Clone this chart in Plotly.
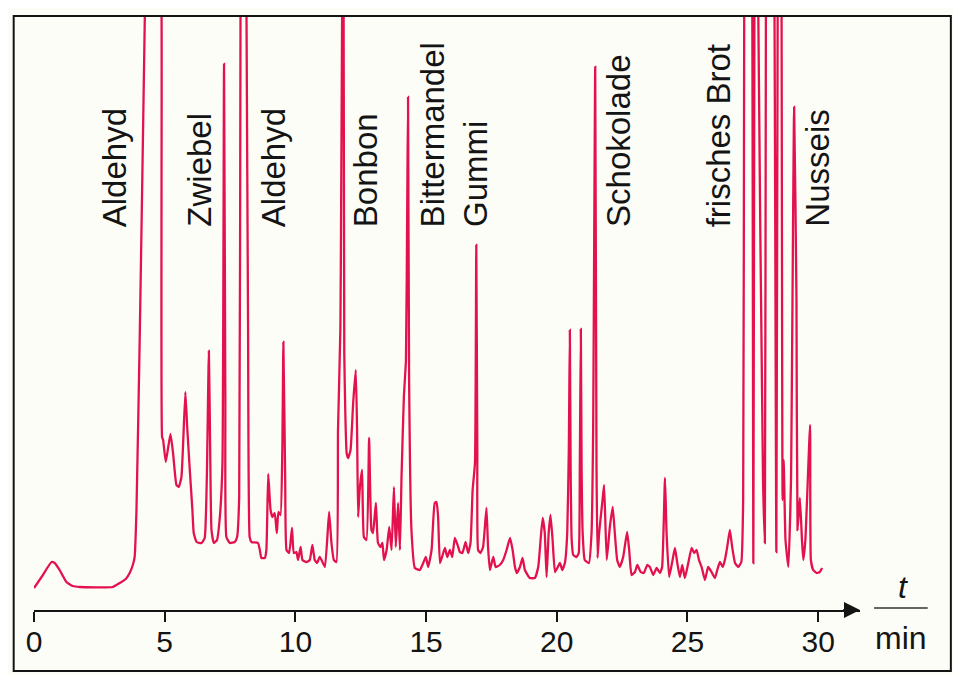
import plotly.graph_objects as go

# Gaschromatogramm: Retentionszeit (min) und Detektorsignal (willkürliche Einheiten)
zeit = [0.00, 0.29, 0.67, 0.79, 0.98, 1.24, 1.48, 1.75, 3.01, 3.28, 3.51, 3.66, 3.78, 3.85, 3.92,
        4.05, 4.24, 4.54, 4.88, 4.90, 4.94, 5.04, 5.22, 5.32, 5.45, 5.54, 5.64, 5.70, 5.79, 5.86,
        5.96, 6.06, 6.11, 6.22, 6.41, 6.53, 6.61, 6.69, 6.74, 6.79, 6.88, 7.00, 7.11, 7.21, 7.27,
        7.32, 7.36, 7.49, 7.68, 7.77, 7.85, 7.90, 8.01, 8.13, 8.19, 8.25, 8.32, 8.57, 8.64, 8.70,
        8.83, 8.89, 8.96, 9.05, 9.12, 9.21, 9.29, 9.35, 9.43, 9.50, 9.54, 9.61, 9.66, 9.76, 9.87,
        9.94, 10.04, 10.10, 10.20, 10.27, 10.42, 10.55, 10.65, 10.74, 10.83, 10.93, 11.00, 11.13,
        11.29, 11.38, 11.47, 11.57, 11.63, 11.72, 11.83, 11.87, 11.91, 11.96, 12.02, 12.11, 12.21,
        12.31, 12.36, 12.40, 12.46, 12.55, 12.62, 12.72, 12.82, 12.91, 12.97, 13.08, 13.16, 13.26,
        13.33, 13.39, 13.49, 13.59, 13.68, 13.77, 13.84, 13.93, 14.00, 14.06, 14.15, 14.23, 14.28,
        14.31, 14.35, 14.44, 14.57, 14.76, 14.89, 14.99, 15.08, 15.21, 15.33, 15.40, 15.46, 15.53,
        15.61, 15.72, 15.81, 15.91, 16.00, 16.10, 16.23, 16.29, 16.39, 16.51, 16.61, 16.70, 16.78,
        16.87, 16.92, 16.96, 16.99, 17.08, 17.18, 17.31, 17.37, 17.44, 17.57, 17.66, 17.82, 17.95,
        18.08, 18.21, 18.31, 18.40, 18.47, 18.59, 18.69, 18.78, 18.97, 19.16, 19.29, 19.38, 19.46,
        19.54, 19.61, 19.69, 19.76, 19.84, 19.93, 20.02, 20.12, 20.21, 20.31, 20.40, 20.46, 20.50,
        20.53, 20.57, 20.63, 20.76, 20.84, 20.88, 20.92, 20.95, 20.99, 21.07, 21.23, 21.33, 21.39,
        21.47, 21.52, 21.56, 21.62, 21.75, 21.81, 21.91, 22.03, 22.14, 22.22, 22.31, 22.41, 22.54,
        22.69, 22.77, 22.86, 22.99, 23.08, 23.21, 23.33, 23.46, 23.56, 23.69, 23.82, 23.95, 24.03,
        24.14, 24.20, 24.30, 24.43, 24.52, 24.61, 24.71, 24.80, 24.90, 25.03, 25.16, 25.26, 25.35,
        25.44, 25.54, 25.67, 25.79, 25.92, 26.05, 26.14, 26.24, 26.35, 26.43, 26.52, 26.62, 26.71,
        26.82, 26.94, 27.06, 27.13, 27.17, 27.31, 27.48, 27.52, 27.56, 27.63, 27.71, 27.89, 27.96,
        28.00, 28.16, 28.33, 28.40, 28.45, 28.53, 28.60, 28.64, 28.68, 28.75, 28.86, 28.96, 29.08,
        29.17, 29.21, 29.30, 29.38, 29.43, 29.51, 29.69, 29.72, 29.81, 29.94, 30.06, 30.15]

signal = [22, 33, 48, 47, 40, 28, 24, 23, 23, 27, 31, 37, 45, 53, 100,
          280, 594, 1200, 594, 173, 170, 148, 176, 157, 125, 123, 133, 163, 218, 183,
          140, 100, 77, 68, 67, 72, 130, 259, 160, 80, 67, 70, 93, 147, 546,
          210, 73, 67, 68, 73, 113, 594, 1200, 594, 280, 73, 68, 67, 60, 52,
          52, 60, 136, 100, 93, 97, 77, 98, 95, 160, 268, 130, 60, 57, 82,
          57, 58, 50, 63, 50, 48, 50, 65, 50, 47, 53, 50, 43,
          98, 67, 50, 48, 180, 280, 800, 257, 197, 157, 152, 160, 207,
          240, 180, 93, 120, 140, 73, 70, 172, 80, 77, 107, 67, 63,
          67, 50, 60, 83, 60, 123, 63, 107, 60, 133, 213, 250, 410,
          513, 230, 80, 42, 40, 47, 53, 43, 60, 107, 108, 93, 47,
          53, 62, 53, 60, 53, 72, 63, 58, 57, 68, 57, 67, 120,
          147, 365, 160, 60, 57, 63, 102, 63, 40, 53, 43, 45, 50,
          60, 72, 60, 43, 37, 43, 52, 40, 32, 32, 43, 70, 92,
          77, 33, 77, 95, 70, 38, 42, 47, 40, 47, 77, 160, 280,
          140, 70, 55, 53, 57, 140, 281, 140, 77, 50, 47, 77, 177,
          543, 143, 52, 77, 110, 125, 50, 83, 103, 77, 50, 43, 53,
          78, 60, 35, 38, 45, 38, 37, 45, 43, 35, 42, 37, 43,
          132, 77, 33, 50, 62, 47, 33, 45, 32, 47, 62, 57, 60,
          50, 43, 30, 43, 38, 32, 40, 48, 43, 50, 63, 80, 63,
          47, 43, 48, 110, 594, 1200, 594, 47, 594, 1200, 594, 130, 67,
          594, 1200, 594, 58, 594, 1200, 594, 110, 150, 70, 43, 130, 503,
          310, 80, 112, 70, 50, 70, 185, 50, 40, 37, 38, 42]

# Zuordnung der Geruchseindrücke
duft = ["Aldehyd", "Zwiebel", "Aldehyd", "Bonbon", "Bittermandel", "Gummi",
        "Schokolade", "frisches Brot", "Nusseis"]
duft_zeit = [3.09, 6.30, 9.17, 12.67, 15.26, 16.87, 22.34, 26.20, 29.96]

ticks = [0, 5, 10, 15, 20, 25, 30]

schrift = "Helvetica, Liberation Sans, Arial, sans-serif"
rot = "#e3124e"
schwarz = "#141414"

fig = go.Figure()
fig.add_trace(go.Scatter(x=zeit, y=signal, mode="lines",
                         line=dict(color=rot, width=2.3, shape="spline", smoothing=0.4),
                         hoverinfo="skip"))

for name, t in zip(duft, duft_zeit):
    fig.add_annotation(x=t, y=381, xref="x", yref="y", text=name, textangle=-90,
                       showarrow=False, xanchor="center", yanchor="bottom",
                       font=dict(family=schrift, size=33, color=schwarz))

# Pfeilspitze am Ende der Zeitachse
fig.add_annotation(x=31.6, y=0, ax=30.9, ay=0, xref="x", yref="y", axref="x", ayref="y",
                   text="", showarrow=True, arrowhead=2, arrowsize=1.6, arrowwidth=2,
                   arrowcolor=schwarz)

# Achsenbeschriftung t / min
fig.add_annotation(x=1.052, y=0.039, xref="paper", yref="paper", text="<i>t</i>",
                   showarrow=False, xanchor="center", yanchor="middle",
                   font=dict(family=schrift, size=32, color=schwarz))
fig.add_annotation(x=1.050, y=-0.047, xref="paper", yref="paper", text="min",
                   showarrow=False, xanchor="center", yanchor="middle",
                   font=dict(family=schrift, size=32, color=schwarz))
fig.add_shape(type="line", xref="paper", yref="paper", x0=1.017, x1=1.082, y0=0.0034, y1=0.0034,
              line=dict(color="#333333", width=1.5))

# Rahmen
fig.add_shape(type="rect", xref="paper", yref="paper", x0=-0.0246, x1=1.110, y0=-0.1027, y1=1.0,
              line=dict(color=schwarz, width=2), layer="above")

fig.update_xaxes(range=[0, 31.6], showgrid=False, zeroline=False, showline=True,
                 linecolor=schwarz, linewidth=2, ticks="outside", ticklen=10, tickwidth=1.5,
                 tickcolor=schwarz, tickvals=ticks, ticklabelstandoff=-6,
                 tickfont=dict(family=schrift, size=30, color=schwarz))
fig.update_yaxes(range=[0, 594], visible=False, showgrid=False, zeroline=False)

# die Seite hat 8 px Rand, daher ist die Figur 16 px kleiner
fig.update_layout(width=945, height=667, margin=dict(l=26, r=93, t=8, b=65),
                  paper_bgcolor="#fdfdf8", plot_bgcolor="#fdfdf8", showlegend=False)

fig.write_html("out.html")
